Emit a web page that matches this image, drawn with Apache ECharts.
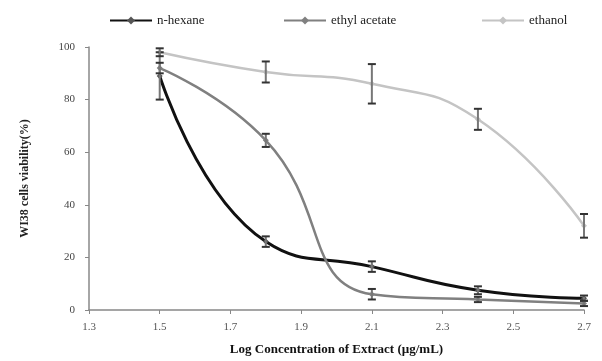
<!DOCTYPE html>
<html><head><meta charset="utf-8">
<script src="https://cdn.jsdelivr.net/npm/echarts@6/dist/echarts.min.js"></script>
<style>html,body{margin:0;padding:0;background:#fff}#c{width:602px;height:361px}</style>
</head><body><div id="c"></div>
<script>
const xValues = [1.5, 1.8, 2.1, 2.4, 2.7];
const seriesNames = ['n-hexane', 'ethyl acetate', 'ethanol'];
const hexane = [89, 26, 16.5, 7.5, 4.5];
const hexaneErr = [9, 2, 2, 1.5, 1];
const ethylAcetate = [92, 64.5, 6, 4, 2.5];
const ethylAcetateErr = [2, 2.5, 2, 1, 1];
const ethanol = [98, 90.5, 86, 72.5, 32];
const ethanolErr = [1.5, 4, 7.5, 4, 4.5];
const xTicks = ['1.3','1.5','1.7','1.9','2.1','2.3','2.5','2.7'];
const yTicks = ['0','20','40','60','80','100'];

const colors = ['#111111', '#808080', '#c4c4c4'];
const vals = [hexane, ethylAcetate, ethanol];
const errs = [hexaneErr, ethylAcetateErr, ethanolErr];

const chart = echarts.init(document.getElementById('c'));
const series = [];
vals.forEach((v, i) => {
  series.push({
    name: seriesNames[i], type: 'line', smooth: 0.5,
    data: xValues.map((x, j) => [x, v[j]]),
    lineStyle: { color: colors[i], width: i === 0 ? 3 : 2.5 },
    itemStyle: { color: i === 0 ? '#555' : colors[i] },
    symbol: 'diamond', symbolSize: 6, z: 2 + i
  });
});
vals.forEach((v, i) => {
  series.push({
    type: 'custom', silent: true, z: 10,
    data: xValues.map((x, j) => [x, v[j] - errs[i][j], v[j] + errs[i][j]]),
    renderItem: function (params, api) {
      const lo = api.coord([api.value(0), api.value(1)]);
      const hi = api.coord([api.value(0), api.value(2)]);
      const w = 4;
      const st = { stroke: '#333', lineWidth: 2 };
      return { type: 'group', children: [
        { type: 'line', shape: { x1: lo[0], y1: lo[1], x2: hi[0], y2: hi[1] }, style: { stroke: '#777', lineWidth: 2 } },
        { type: 'line', shape: { x1: lo[0] - w, y1: lo[1], x2: lo[0] + w, y2: lo[1] }, style: st },
        { type: 'line', shape: { x1: hi[0] - w, y1: hi[1], x2: hi[0] + w, y2: hi[1] }, style: st }
      ]};
    }
  });
});

const legendLefts = [104, 278, 476];
const legends = seriesNames.map((n, i) => ({
  data: [n], top: 9, left: legendLefts[i], itemWidth: 42, itemHeight: 10, itemGap: 4,
  textStyle: { fontFamily: 'Liberation Serif', fontSize: 13, color: '#222' }
}));

chart.setOption({
  animation: false,
  textStyle: { fontFamily: 'Liberation Serif' },
  legend: legends,
  grid: { left: 89, right: 18, top: 47, bottom: 50 },
  xAxis: {
    type: 'value', min: 1.3, max: 2.7, interval: 0.2,
    name: 'Log Concentration of Extract (µg/mL)', nameLocation: 'middle', nameGap: 33,
    nameTextStyle: { fontFamily: 'Liberation Serif', fontSize: 13, fontWeight: 'bold', color: '#111' },
    axisLine: { lineStyle: { color: '#888', width: 1.5 } },
    axisTick: { show: true, length: 4, lineStyle: { color: '#888' } },
    axisLabel: { fontFamily: 'Liberation Serif', fontSize: 11, color: '#555', margin: 12,
      formatter: function (v) { const s = v.toFixed(1); return xTicks.indexOf(s) >= 0 ? s : ''; } },
    splitLine: { show: false }
  },
  yAxis: {
    type: 'value', min: 0, max: 100, interval: 20,
    name: 'WI38 cells viability(%)', nameLocation: 'middle', nameGap: 58, nameRotate: 90,
    nameTextStyle: { fontFamily: 'Liberation Serif', fontSize: 12, fontWeight: 'bold', color: '#222' },
    axisLine: { show: true, lineStyle: { color: '#888', width: 1.5 } },
    axisTick: { show: true, length: 4, lineStyle: { color: '#888' } },
    axisLabel: { fontFamily: 'Liberation Serif', fontSize: 11, color: '#444', margin: 14,
      formatter: function (v) { return yTicks.indexOf(String(v)) >= 0 ? String(v) : ''; } },
    splitLine: { show: false }
  },
  series: series
});
</script></body></html>
